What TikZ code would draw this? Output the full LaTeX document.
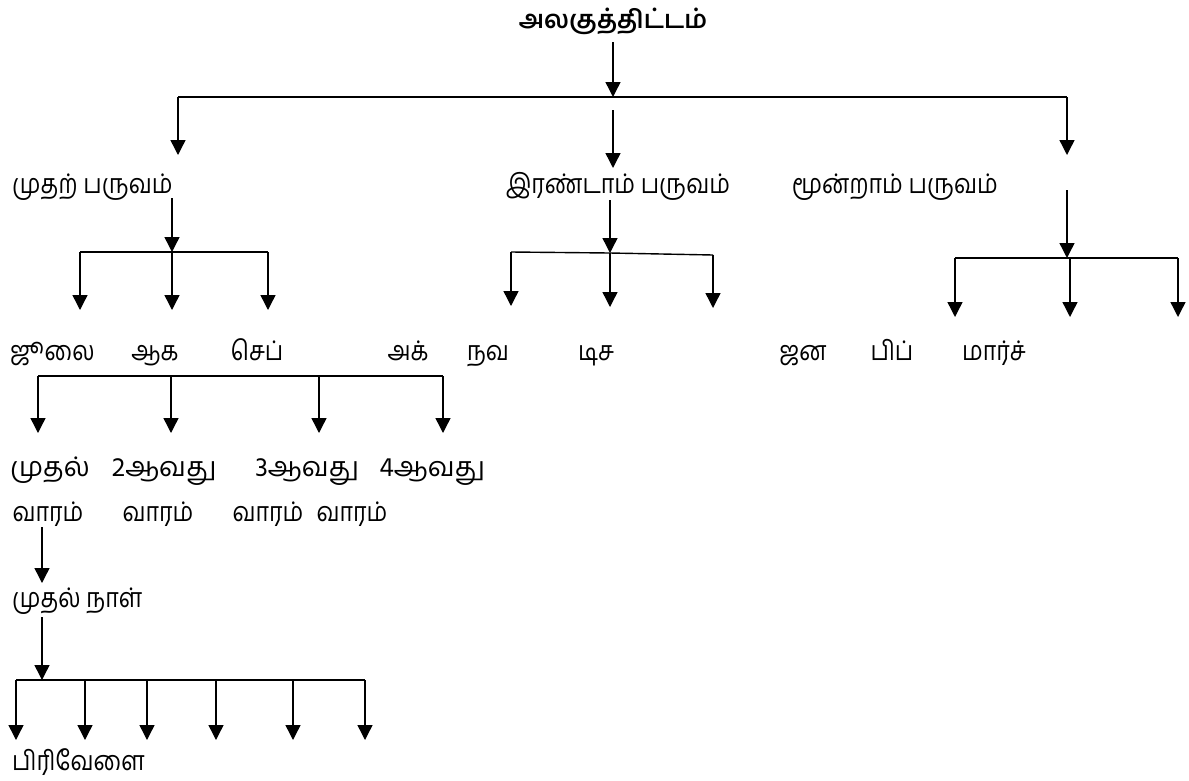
\documentclass[tikz,border=0pt]{standalone}
\usepackage{fontspec}
\usetikzlibrary{arrows.meta}
\newfontfamily\tamil[Script=Tamil,FakeStretch=0.86]{Hind Madurai}
\newfontfamily\tamilw[Script=Tamil,FakeStretch=1.0]{Hind Madurai}
\newfontfamily\tamilt[Script=Tamil]{Hind Madurai}
\tikzset{
  lbl/.style={font=\tamil\fontsize{27}{29}\selectfont, inner sep=0pt, anchor=base west},
  clbl/.style={font=\tamil\fontsize{27}{29}\selectfont, inner sep=0pt, anchor=base},
  wlbl/.style={font=\tamilw\fontsize{27}{29}\selectfont, inner sep=0pt, anchor=base},
  ttl/.style={font=\tamilt\bfseries\fontsize{25}{27}\selectfont, inner sep=0pt, anchor=base},
  ln/.style={line width=1.4pt},
  arr/.style={line width=1.4pt, -{Triangle[width=15pt,length=15pt]}}
}
\begin{document}
\begin{tikzpicture}[x=1pt,y=-1pt]
\useasboundingbox (0,0) rectangle (1189,780);
% title
\node[ttl] (title) at (613,28) {அலகுத்திட்டம்};
% level 1
\coordinate (tl) at (178,97);
\coordinate (tc) at (613,97);
\coordinate (tr) at (1067,97);
\coordinate (tcb) at (613,110);
\coordinate (tct) at (613,42);
\draw[arr] (tct) -- (tc);
\draw[ln] (tl) -- (tr);
\node[lbl] (t1) at (12,193) {முதற் பருவம்};
\node[clbl] (t2) at (618,193) {இரண்டாம் பருவம்};
\node[clbl] (t3) at (895,193) {மூன்றாம் பருவம்};
\coordinate (a1) at (178,155);
\coordinate (a2) at (613,168);
\coordinate (a3) at (1067,155);
\draw[arr] (tl) -- (a1);
\draw[arr] (tcb) -- (a2);
\draw[arr] (tr) -- (a3);
% term 1 branch
\coordinate (b1s) at (172,198);
\coordinate (b1j) at (172,252);
\coordinate (b1l) at (80,252);
\coordinate (b1r) at (268,252);
\draw[arr] (b1s) -- (b1j);
\draw[ln] (b1l) -- (b1r);
\coordinate (m1) at (80,310);
\coordinate (m2) at (172,310);
\coordinate (m3) at (268,310);
\draw[arr] (b1l) -- (m1);
\draw[arr] (b1j) -- (m2);
\draw[arr] (b1r) -- (m3);
% term 2 branch
\coordinate (b2s) at (610,200);
\coordinate (b2j) at (610,253);
\coordinate (b2l) at (511,252);
\coordinate (b2r) at (713,255);
\draw[arr] (b2s) -- (b2j);
\draw[ln] (b2l) -- (b2j) -- (b2r);
\coordinate (m4) at (511,306);
\coordinate (m5) at (610,307);
\coordinate (m6) at (713,308);
\draw[arr] (b2l) -- (m4);
\draw[arr] (b2j) -- (m5);
\draw[arr] (b2r) -- (m6);
% term 3 branch
\coordinate (b3s) at (1067,190);
\coordinate (b3j) at (1067,258);
\coordinate (b3l) at (955,258);
\coordinate (b3m) at (1070,258);
\coordinate (b3r) at (1178,258);
\draw[arr] (b3s) -- (b3j);
\draw[ln] (b3l) -- (b3r);
\coordinate (m7) at (955,317);
\coordinate (m8) at (1070,317);
\coordinate (m9) at (1178,317);
\draw[arr] (b3l) -- (m7);
\draw[arr] (b3m) -- (m8);
\draw[arr] (b3r) -- (m9);
% months
\node[lbl] (jul) at (10,360) {ஜூலை};
\node[clbl] (aug) at (155,360) {ஆக};
\node[clbl] (sep) at (257,360) {செப்};
\node[clbl] (oct) at (408,360) {அக்};
\node[clbl] (nov) at (488,360) {நவ};
\node[clbl] (dec) at (596,360) {டிச};
\node[clbl] (jan) at (803,360) {ஜன};
\node[clbl] (feb) at (892,360) {பிப்};
\node[clbl] (mar) at (994,360) {மார்ச்};
% weeks branch
\coordinate (wl) at (38,376);
\coordinate (w2) at (171,376);
\coordinate (w3) at (319,376);
\coordinate (wr) at (443,376);
\draw[ln] (wl) -- (wr);
\coordinate (wa1) at (38,433);
\coordinate (wa2) at (171,433);
\coordinate (wa3) at (319,433);
\coordinate (wa4) at (443,433);
\draw[arr] (wl) -- (wa1);
\draw[arr] (w2) -- (wa2);
\draw[arr] (w3) -- (wa3);
\draw[arr] (wr) -- (wa4);
\node[wlbl] (wk1) at (50,476) {முதல்};
\node[wlbl] (wk2) at (164,476) {2ஆவது};
\node[wlbl] (wk3) at (307,476) {3ஆவது};
\node[wlbl] (wk4) at (432,476) {4ஆவது};
\node[clbl] (wv1) at (48,521) {வாரம்};
\node[clbl] (wv2) at (158,521) {வாரம்};
\node[clbl] (wv3) at (268,521) {வாரம்};
\node[clbl] (wv4) at (352,521) {வாரம்};
% day
\coordinate (ds) at (42,527);
\coordinate (dt) at (42,583);
\draw[arr] (ds) -- (dt);
\node[lbl] (day) at (12,607) {முதல் நாள்};
\coordinate (ps) at (42,617);
\coordinate (pj) at (42,680);
\draw[arr] (ps) -- (pj);
\coordinate (pl) at (16,680);
\coordinate (pr) at (365,680);
\draw[ln] (pl) -- (pr);
\foreach \x [count=\i] in {16,85,147,216,293,365} {
  \coordinate (pt\i) at (\x,680);
  \coordinate (pe\i) at (\x,740);
  \draw[arr] (pt\i) -- (pe\i);
}
\node[lbl] (per) at (12,770) {பிரிவேளை};
\end{tikzpicture}
\end{document}
